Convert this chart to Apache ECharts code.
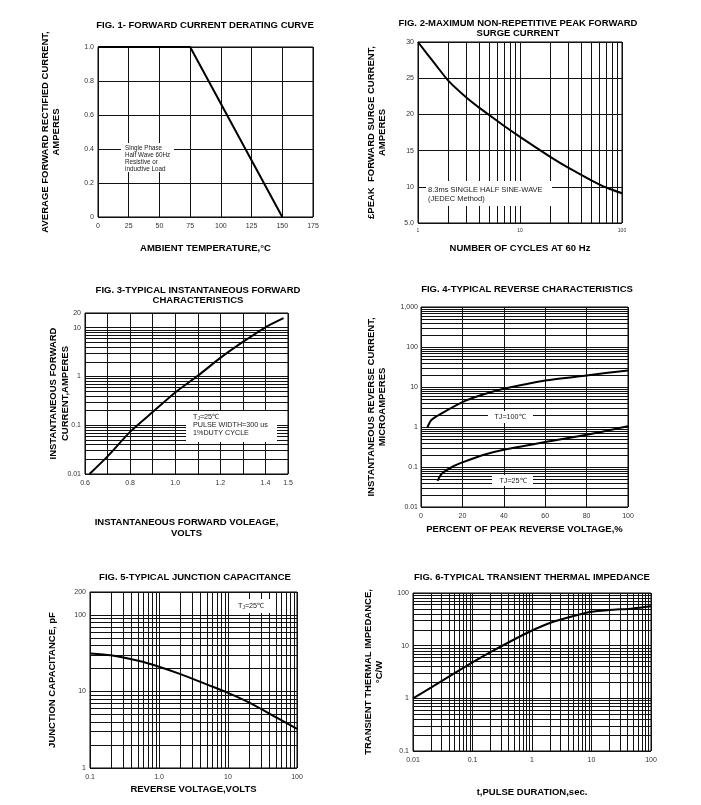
<!DOCTYPE html>
<html>
<head>
<meta charset="utf-8">
<script src="https://cdn.jsdelivr.net/npm/echarts@6/dist/echarts.min.js"></script>
<style>html,body{margin:0;padding:0;background:#fff}#c{width:701px;height:805px}</style>
</head>
<body>
<div id="c"></div>
<script>
// ---------- DATA ----------
// Fig 1: forward current derating
const fig1Temp = [0, 75, 150];
const fig1Current = [1.0, 1.0, 0];
// Fig 2: peak forward surge current
const fig2Cycles = [1, 1.5, 2, 3, 4, 5, 7, 10, 20, 30, 50, 70, 100];
const fig2Surge = [30, 26.8, 24.6, 22.3, 20.9, 19.9, 18.4, 16.9, 14.1, 12.6, 10.9, 9.9, 9.1];
// Fig 3: instantaneous forward characteristics
const fig3Volts = [0.62, 0.7, 0.8, 0.9, 1.0, 1.1, 1.2, 1.3, 1.4, 1.48];
const fig3Amps = [0.01, 0.023, 0.073, 0.186, 0.47, 1.03, 2.4, 5.1, 10.2, 15.7];
// Fig 4: reverse characteristics
const fig4PctHot = [3, 5, 10, 20, 30, 40, 60, 80, 100];
const fig4CurHot = [0.95, 1.5, 2.2, 4.2, 6.5, 9.0, 14.5, 19.5, 26];
const fig4PctCold = [8, 10, 15, 20, 30, 40, 60, 80, 100];
const fig4CurCold = [0.045, 0.068, 0.1, 0.13, 0.2, 0.27, 0.42, 0.64, 1.05];
// Fig 5: junction capacitance
const fig5Volts = [0.1, 0.2, 0.5, 1, 2, 5, 10, 20, 50, 100];
const fig5Cap = [31.5, 29.8, 25.2, 21.1, 17.0, 12.3, 9.6, 7.2, 4.6, 3.25];
// Fig 6: transient thermal impedance
const fig6Time = [0.01, 0.02, 0.05, 0.1, 0.2, 0.5, 1, 2, 5, 10, 20, 50, 100];
const fig6Imp = [1, 1.6, 3.0, 4.8, 7.5, 13.1, 19.4, 27, 36.5, 44, 47.5, 51, 56];

// Tick labels
const fig2XTicks = [1, 10, 100], fig2XLabels = ['1', '10', '100'];
const fig3XTicks = [0.6, 0.8, 1.0, 1.2, 1.4, 1.5], fig3XLabels = ['0.6', '0.8', '1.0', '1.2', '1.4', '1.5'];
const fig3YTicks = [0.01, 0.1, 1, 10, 20], fig3YLabels = ['0.01', '0.1', '1', '10', '20'];
const fig4YTicks = [0.01, 0.1, 1, 10, 100, 1000], fig4YLabels = ['0.01', '0.1', '1', '10', '100', '1,000'];
const fig5XTicks = [0.1, 1, 10, 100], fig5XLabels = ['0.1', '1.0', '10', '100'];
const fig5YTicks = [1, 10, 100, 200], fig5YLabels = ['1', '10', '100', '200'];
const fig6XTicks = [0.01, 0.1, 1, 10, 100], fig6XLabels = ['0.01', '0.1', '1', '10', '100'];
const fig6YTicks = [0.1, 1, 10, 100], fig6YLabels = ['0.1', '1', '10', '100'];

// ---------- HELPERS ----------
const FONT = '"Liberation Sans", Arial, Helvetica, sans-serif';
const zip = (a, b) => a.map((v, i) => [v, b[i]]);
function pick(ticks, labels, isLog) {
  return function (v) {
    for (let i = 0; i < ticks.length; i++) {
      const d = isLog ? Math.abs(Math.log10(v) - Math.log10(ticks[i])) : Math.abs(v - ticks[i]);
      if (d < 1e-6) return labels[i];
    }
    return '';
  };
}
// log grid lines at 2..9 x 10^k inside [lo, hi]
function logMinor(lo, hi) {
  const out = [];
  for (let k = Math.floor(Math.log10(lo)); k <= Math.ceil(Math.log10(hi)); k++) {
    for (let m = 2; m <= 9; m++) {
      const v = +(m * Math.pow(10, k)).toPrecision(6);
      if (v > lo * 1.0001 && v < hi * 0.9999) out.push(v);
    }
  }
  return out;
}
const gridLine = { color: '#111', width: 1, type: 'solid' };
function minorLines(xs, ys) {
  const data = [];
  (xs || []).forEach(v => data.push({ xAxis: v }));
  (ys || []).forEach(v => data.push({ yAxis: v }));
  return {
    silent: true, symbol: ['none', 'none'], animation: false,
    label: { show: false }, lineStyle: gridLine,
    emphasis: { disabled: true }, data: data
  };
}
const tickLbl = { color: '#333', fontSize: 7, fontFamily: FONT, margin: 4 };
const nameStyle = { color: '#000', fontSize: 9.5, fontWeight: 'bold', fontFamily: FONT, lineHeight: 11 };
function xAx(idx, o) {
  return Object.assign({
    gridIndex: idx, nameLocation: 'middle', nameTextStyle: nameStyle, nameMoveOverlap: false,
    axisLine: { show: false }, axisTick: { show: false },
    splitLine: { show: true, lineStyle: gridLine },
    axisLabel: Object.assign({}, tickLbl, { margin: 6, showMinLabel: true, showMaxLabel: true, hideOverlap: false })
  }, o);
}
function yAx(idx, o) {
  return Object.assign({
    gridIndex: idx, nameLocation: 'middle', nameRotate: 90, nameTextStyle: nameStyle, nameMoveOverlap: false,
    axisLine: { show: false }, axisTick: { show: false },
    splitLine: { show: true, lineStyle: gridLine },
    axisLabel: Object.assign({}, tickLbl, { showMinLabel: true, showMaxLabel: true, hideOverlap: false })
  }, o);
}
function lbl(fmt, extra) { return Object.assign({}, tickLbl, { showMinLabel: true, showMaxLabel: true, hideOverlap: false, formatter: fmt }, extra || {}); }
const curve = { color: '#000', width: 2 };
function title(text, left, top) {
  return { text: text, left: left, top: top, textAlign: 'center', padding: 0,
    textStyle: { color: '#000', fontSize: 9.5, fontWeight: 'bold', fontFamily: FONT, lineHeight: 10 } };
}
function box(x, y, w, h) { return { type: 'rect', z: 100, shape: { x: x, y: y, width: w, height: h }, style: { fill: '#fff' } }; }
function txt(x, y, text, size, align, extra) {
  return { type: 'text', z: 101, x: x, y: y,
    style: Object.assign({ text: text, fill: '#222', fontSize: size, fontFamily: FONT, align: align || 'left', verticalAlign: 'top', lineHeight: size + 1 }, extra || {}) };
}
function tjRich(x, y, rest, size, align) {
  return txt(x, y, '{n|T}{s|J}{n|' + rest + '}', size, align, {
    rich: { n: { fontSize: size, fontFamily: FONT, fill: '#222' }, s: { fontSize: size * 0.7, fontFamily: FONT, fill: '#222', padding: [3, 0, 0, 0] } }
  });
}

const grids = [
  { left: 98, top: 47, width: 215, height: 170 },
  { left: 418, top: 42, width: 204, height: 181 },
  { left: 85, top: 313, width: 203, height: 161 },
  { left: 421, top: 307, width: 207, height: 200 },
  { left: 90, top: 592, width: 207, height: 176 },
  { left: 413, top: 593, width: 238, height: 158 }
].map(g => Object.assign(g, { show: true, borderColor: '#000', borderWidth: 1, backgroundColor: '#fff', containLabel: false, outerBoundsMode: 'none' }));

const option = {
  animation: false,
  backgroundColor: '#fff',
  title: [
    title('FIG. 1- FORWARD CURRENT DERATING CURVE', 205, 20),
    title('FIG. 2-MAXIMUM NON-REPETITIVE PEAK FORWARD\nSURGE CURRENT', 518, 18),
    title('FIG. 3-TYPICAL INSTANTANEOUS FORWARD\nCHARACTERISTICS', 198, 285),
    title('FIG. 4-TYPICAL REVERSE CHARACTERISTICS', 527, 284),
    title('FIG. 5-TYPICAL JUNCTION CAPACITANCE', 195, 572),
    title('FIG. 6-TYPICAL TRANSIENT THERMAL IMPEDANCE', 532, 572)
  ],
  grid: grids,
  xAxis: [
    xAx(0, { type: 'value', min: 0, max: 175, interval: 25, name: 'AMBIENT TEMPERATURE,°C', nameGap: 26 }),
    xAx(1, { type: 'log', logBase: 10, min: 1, max: 100, name: 'NUMBER OF CYCLES AT 60 Hz', nameGap: 20,
      axisLabel: lbl(pick(fig2XTicks, fig2XLabels, true), { fontSize: 5, margin: 5 }) }),
    xAx(2, { type: 'value', min: 0.6, max: 1.5, interval: 0.1, name: 'INSTANTANEOUS FORWARD VOLEAGE,\nVOLTS', nameGap: 43,
      axisLabel: lbl(pick(fig3XTicks, fig3XLabels, false), { margin: 6 }) }),
    xAx(3, { type: 'value', min: 0, max: 100, interval: 20, name: 'PERCENT OF PEAK REVERSE VOLTAGE,%', nameGap: 17 }),
    xAx(4, { type: 'log', logBase: 10, min: 0.1, max: 100, name: 'REVERSE VOLTAGE,VOLTS', nameGap: 16,
      axisLabel: lbl(pick(fig5XTicks, fig5XLabels, true), { margin: 6 }) }),
    xAx(5, { type: 'log', logBase: 10, min: 0.01, max: 100, name: 't,PULSE DURATION,sec.', nameGap: 36,
      axisLabel: lbl(pick(fig6XTicks, fig6XLabels, true), { margin: 6 }) })
  ],
  yAxis: [
    yAx(0, { type: 'value', min: 0, max: 1, interval: 0.2, name: 'AVERAGE FORWARD RECTIFIED CURRENT,\nAMPERES', nameGap: 36,
      axisLabel: lbl(v => v === 0 ? '0' : v.toFixed(1)) }),
    yAx(1, { type: 'value', min: 5, max: 30, interval: 5, name: '£PEAK  FORWARD SURGE CURRENT,\nAMPERES', nameGap: 30,
      axisLabel: lbl(v => v === 5 ? '5.0' : String(v)) }),
    yAx(2, { type: 'log', logBase: 10, min: 0.01, max: 20, name: 'INSTANTANEOUS FORWARD\nCURRENT,AMPERES', nameGap: 14,
      nameTextStyle: Object.assign({}, nameStyle, { lineHeight: 12 }),
      axisLabel: lbl(pick(fig3YTicks, fig3YLabels, true)) }),
    yAx(3, { type: 'log', logBase: 10, min: 0.01, max: 1000, name: 'INSTANTANEOUS REVERSE CURRENT,\nMICROAMPERES', nameGap: 33,
      axisLabel: lbl(pick(fig4YTicks, fig4YLabels, true), { margin: 3 }) }),
    yAx(4, { type: 'log', logBase: 10, min: 1, max: 200, name: 'JUNCTION CAPACITANCE, pF', nameGap: 32,
      axisLabel: lbl(pick(fig5YTicks, fig5YLabels, true)) }),
    yAx(5, { type: 'log', logBase: 10, min: 0.1, max: 100, name: 'TRANSIENT THERMAL IMPEDANCE,\n°C/W', nameGap: 28,
      axisLabel: lbl(pick(fig6YTicks, fig6YLabels, true)) })
  ],
  series: [
    { type: 'line', xAxisIndex: 0, yAxisIndex: 0, data: zip(fig1Temp, fig1Current), symbol: 'none', lineStyle: curve, z: 5 },
    { type: 'line', xAxisIndex: 1, yAxisIndex: 1, data: zip(fig2Cycles, fig2Surge), symbol: 'none', smooth: 0.25, lineStyle: curve, z: 5,
      markLine: minorLines(logMinor(1, 100), []) },
    { type: 'line', xAxisIndex: 2, yAxisIndex: 2, data: zip(fig3Volts, fig3Amps), symbol: 'none', smooth: 0.25, lineStyle: curve, z: 5,
      markLine: minorLines([], logMinor(0.01, 20)) },
    { type: 'line', xAxisIndex: 3, yAxisIndex: 3, data: zip(fig4PctHot, fig4CurHot), symbol: 'none', smooth: 0.25, lineStyle: curve, z: 5,
      markLine: minorLines([], logMinor(0.01, 1000)) },
    { type: 'line', xAxisIndex: 3, yAxisIndex: 3, data: zip(fig4PctCold, fig4CurCold), symbol: 'none', smooth: 0.25, lineStyle: curve, z: 5 },
    { type: 'line', xAxisIndex: 4, yAxisIndex: 4, data: zip(fig5Volts, fig5Cap), symbol: 'none', smooth: 0.25, lineStyle: curve, z: 5,
      markLine: minorLines(logMinor(0.1, 100), logMinor(1, 200)) },
    { type: 'line', xAxisIndex: 5, yAxisIndex: 5, data: zip(fig6Time, fig6Imp), symbol: 'none', smooth: 0.25, lineStyle: curve, z: 5,
      markLine: minorLines(logMinor(0.01, 100), logMinor(0.1, 100)) }
  ],
  graphic: [
    box(121, 143, 53, 29),
    txt(125, 145, 'Single Phase\nHalf Wave 60Hz\nResistive or\ninductive Load', 6.3, 'left', { lineHeight: 6.8 }),
    box(426, 181, 126, 25),
    txt(428, 186, '8.3ms SINGLE HALF SINE-WAVE\n(JEDEC Method)', 7.5, 'left', { lineHeight: 8.5 }),
    box(186, 411, 91, 31),
    tjRich(193, 413, '=25℃', 7.2, 'left'),
    txt(193, 421, 'PULSE WIDTH=300 us\n1%DUTY CYCLE', 7.2, 'left', { lineHeight: 7.8 }),
    box(488, 411, 45, 12),
    txt(510, 413, 'TJ=100℃', 7.2, 'center'),
    box(492, 475, 41, 11),
    txt(513, 477, 'TJ=25℃', 7.2, 'center'),
    box(233, 599, 38, 14),
    tjRich(238, 602, '=25℃', 7.2, 'left')
  ]
};

const chart = echarts.init(document.getElementById('c'), null, { renderer: 'canvas' });
chart.setOption(option);
</script>
</body>
</html>
